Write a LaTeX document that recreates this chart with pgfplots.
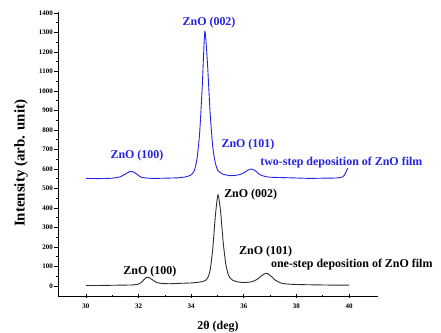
\documentclass[border=0pt]{standalone}
\usepackage{pgfplots}
\pgfplotsset{compat=1.18}
\usepackage{fontspec}
\setmainfont{Liberation Serif}
\definecolor{cblue}{RGB}{35,35,225}
\definecolor{cblack}{RGB}{45,45,45}
\begin{document}
\begin{tikzpicture}
\path[use as bounding box] (0,0) rectangle (441bp,333bp);
\begin{axis}[
  at={(58bp,37bp)}, anchor=south west,
  scale only axis, width=320bp, height=284bp,
  xmin=28.94, xmax=41.1, ymin=-51, ymax=1405,
  axis x line=bottom, axis y line=left,
  axis line style={-, line width=0.8pt},
  xtick={30,32,34,36,38,40},
  ytick={0,100,...,1400},
  minor x tick num=1, minor y tick num=1,
  x tick style={black, line width=0.6pt},
  y tick style={black, line width=0.6pt},
  xtick align=center, ytick align=outside,
  major tick length=4bp, minor tick length=2.5bp,
  /pgf/number format/assume math mode=true,
  /pgf/number format/1000 sep={},
  tick label style={font=\fontsize{7}{8}\selectfont\bfseries},
  yticklabel style={inner sep=1bp},
  xticklabel style={yshift=-2bp},
  xlabel={2θ (deg)},
  ylabel={Intensity (arb. unit)},
  xlabel style={font=\fontsize{12}{14}\selectfont\bfseries, at={(axis description cs:0.5,-0.109)}, anchor=center},
  ylabel style={font=\fontsize{15}{17}\selectfont\bfseries, at={(axis description cs:-0.1156,0.467)}, anchor=center},
  clip mode=individual,
]
\addplot[cblack, line width=0.9pt, smooth, tension=0.4] coordinates {
(30.0,3) (30.5,3) (31.0,4) (31.5,5) (31.8,6) (32.0,10) (32.1,18) (32.2,32) (32.32,46)
(32.42,42) (32.55,30) (32.7,18) (32.9,13) (33.2,12) (33.6,14) (34.0,16) (34.3,20)
(34.5,26) (34.62,40) (34.72,80) (34.82,190) (34.92,360) (35.02,468) (35.12,380)
(35.22,220) (35.32,110) (35.42,55) (35.55,32) (35.75,22) (36.0,18) (36.3,22)
(36.5,34) (36.7,55) (36.85,66) (37.0,55) (37.2,30) (37.45,14) (37.8,9) (38.3,7)
(38.8,6) (39.3,5) (39.7,5) (40.0,5)
};
\addplot[cblue, line width=0.9pt, smooth, tension=0.4] coordinates {
(30.0,552) (30.5,551) (31.0,553) (31.3,560) (31.5,574) (31.67,587) (31.82,584)
(31.97,570) (32.12,557) (32.5,552) (33.0,553) (33.5,555) (33.8,560) (34.0,570)
(34.12,592) (34.22,650) (34.32,780) (34.42,1020) (34.52,1305) (34.62,1140)
(34.72,890) (34.82,715) (34.92,630) (35.02,592) (35.2,574) (35.5,566) (35.8,570)
(36.0,580) (36.15,594) (36.3,600) (36.45,590) (36.6,572) (36.8,562) (37.0,558)
(37.5,556) (38.0,554) (38.5,552) (39.0,553) (39.5,554) (39.75,559) (39.85,575)
(39.95,605)
};
\begin{scope}[every node/.style={font=\fontsize{12}{14}\selectfont\bfseries, inner sep=0pt}]
\node[cblue] at (axis cs:31.94,667) {ZnO (100)};
\node[cblue] at (axis cs:34.68,1349) {ZnO (002)};
\node[cblue] at (axis cs:36.16,726) {ZnO (101)};
\node[cblue, anchor=west] at (axis cs:36.62,631) {two-step deposition of ZnO film};
\node[black] at (axis cs:32.43,72) {ZnO (100)};
\node[black, anchor=west] at (axis cs:35.25,467) {ZnO (002)};
\node[black] at (axis cs:36.83,174) {ZnO (101)};
\node[black, anchor=west] at (axis cs:37.03,108) {one-step deposition of ZnO film};
\end{scope}
\end{axis}
\end{tikzpicture}
\end{document}
